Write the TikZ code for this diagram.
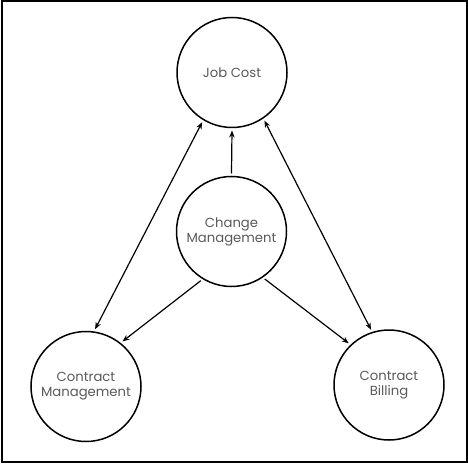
\documentclass[tikz,border=0pt]{standalone}
\usepackage{fontspec}
\setmainfont{Poppins}
\usetikzlibrary{arrows.meta}
\begin{document}
\begin{tikzpicture}[x=1pt,y=1pt,
  bubble/.style={circle,draw=black,line width=1.5pt,minimum size=110pt,inner sep=0pt,outer sep=3pt,
    font=\fontsize{13.2}{15}\selectfont,text=black!65,align=center},
  link/.style={line width=1.2pt,-{Stealth[length=7pt,width=5.5pt]}},
  dlink/.style={line width=1.2pt,{Stealth[length=7pt,width=5.5pt]}-{Stealth[length=7pt,width=5.5pt]}}]
\useasboundingbox (0,0) rectangle (468,464);
\draw[line width=2pt] (1.5,2.5) rectangle (466.5,462.5);
\node[bubble] (jc) at (232,391.5) {Job Cost};
\node[bubble] (chg) at (231.5,232.5) {Change\\Management};
\node[bubble] (cm) at (86,77.5) {Contract\\Management};
\node[bubble] (cb) at (389,79) {Contract\\Billing};
\draw[link] (chg.90) -- (jc.270);
\draw[dlink] (jc.239) -- (cm.81);
\draw[dlink] (jc.304) -- (cb.108);
\draw[link] (chg.238) -- (cm.51);
\draw[link] (chg.305) -- (cb.134);
\end{tikzpicture}
\end{document}
